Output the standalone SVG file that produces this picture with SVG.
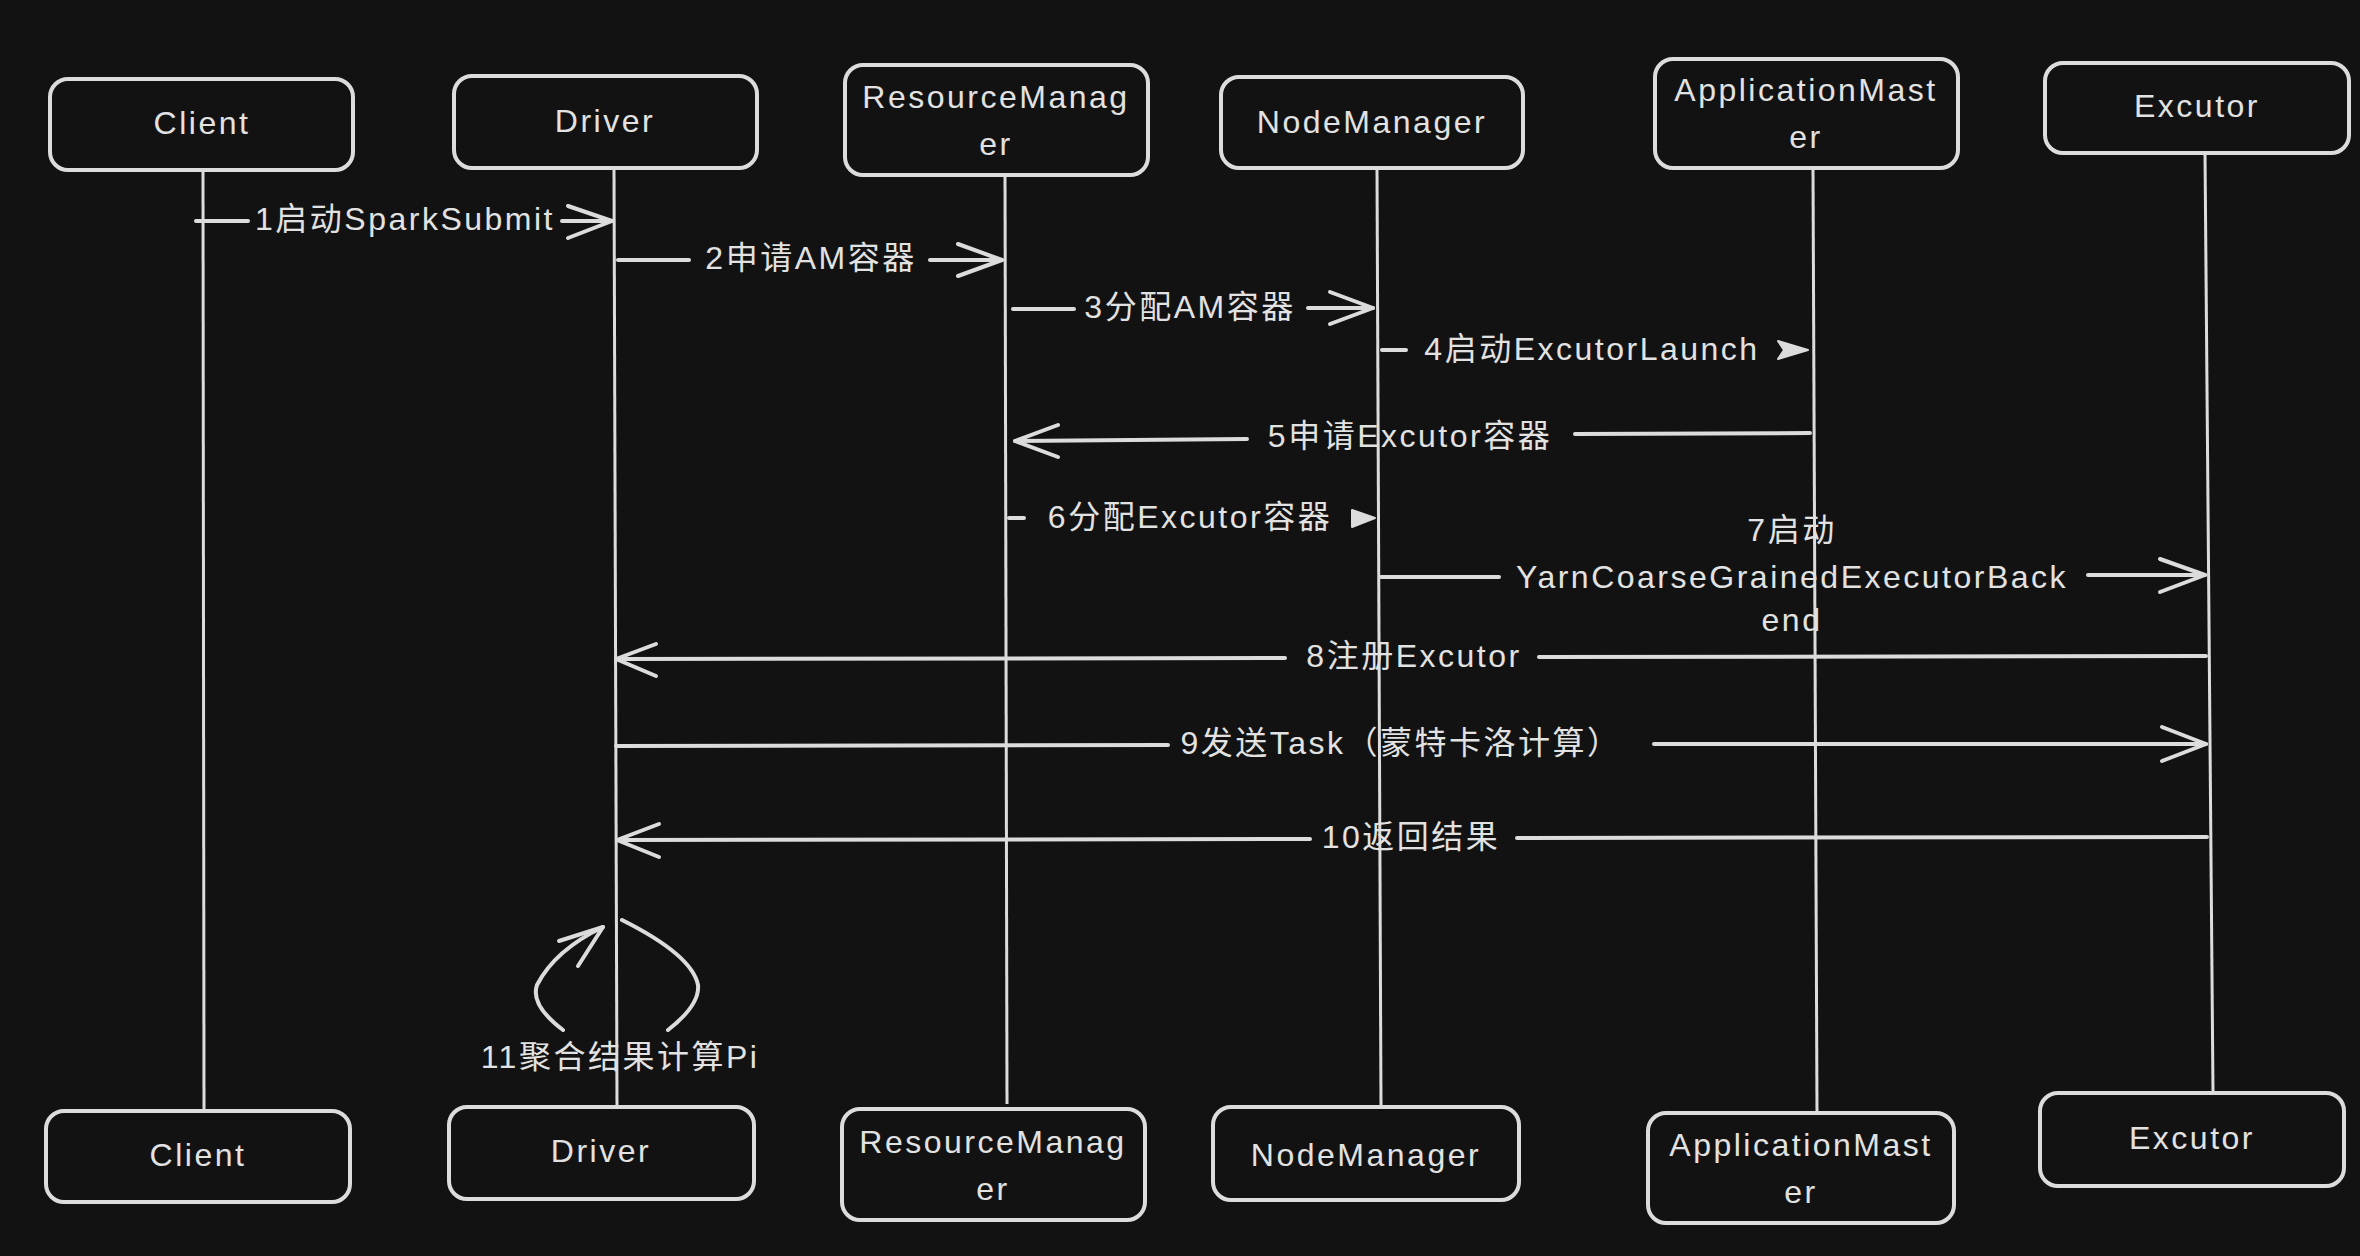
<svg xmlns="http://www.w3.org/2000/svg" width="2360" height="1256" viewBox="0 0 2360 1256">
<defs>
<style>
.bg{fill:#121212}
.box{fill:#121212;stroke:#dcdcdc;stroke-width:4}
.life{stroke:#dcdcdc;stroke-width:3;fill:none}
.msg{stroke:#dcdcdc;stroke-width:4;fill:none;stroke-linecap:round}
.head{stroke:#dcdcdc;stroke-width:4;fill:none;stroke-linecap:round;stroke-linejoin:round}
.tri{fill:#dcdcdc;stroke:#dcdcdc;stroke-width:2;stroke-linejoin:round}
text{font-family:"Liberation Sans","Noto Sans CJK SC",sans-serif;font-size:32px;fill:#e2e2e2;letter-spacing:2.5px;text-anchor:middle;dominant-baseline:central}
</style>
</defs>
<rect class="bg" x="0" y="0" width="2360" height="1256"/>

<g id="lifelines">
<line class="life" x1="203" y1="170" x2="204" y2="1111"/>
<line class="life" x1="614" y1="168" x2="617" y2="1107"/>
<line class="life" x1="1005" y1="175" x2="1007" y2="1104"/>
<line class="life" x1="1377" y1="168" x2="1381" y2="1107"/>
<line class="life" x1="1813" y1="168" x2="1817" y2="1113"/>
<line class="life" x1="2205" y1="153" x2="2213" y2="1093"/>
</g>

<g id="connectors">
<!-- 1 -->
<line class="msg" x1="196" y1="221" x2="248" y2="221"/>
<line class="msg" x1="562" y1="221" x2="612" y2="221"/>
<path class="head" d="M568,206 L612,221 L568,238"/>
<text x="405" y="219">1启动SparkSubmit</text>
<!-- 2 -->
<line class="msg" x1="618" y1="260" x2="689" y2="260"/>
<line class="msg" x1="930" y1="260" x2="1002" y2="260"/>
<path class="head" d="M958,244 L1002,260 L958,276"/>
<text x="811" y="258">2申请AM容器</text>
<!-- 3 -->
<line class="msg" x1="1013" y1="309" x2="1074" y2="309"/>
<line class="msg" x1="1308" y1="308" x2="1373" y2="308"/>
<path class="head" d="M1330,292 L1373,308 L1330,324"/>
<text x="1190" y="307">3分配AM容器</text>
<!-- 4 -->
<line class="msg" x1="1382" y1="350" x2="1406" y2="350"/>
<path class="tri" d="M1778,341 L1808,350 L1778,359 L1784,350 Z"/>
<text x="1592" y="349">4启动ExcutorLaunch</text>
<!-- 5 -->
<line class="msg" x1="1810" y1="433" x2="1575" y2="434"/>
<line class="msg" x1="1247" y1="439" x2="1015" y2="441"/>
<path class="head" d="M1058,425 L1015,441 L1058,457"/>
<text x="1410" y="436">5申请Excutor容器</text>
<!-- 6 -->
<line class="msg" x1="1009" y1="518" x2="1024" y2="518"/>
<path class="tri" d="M1352,510 L1375,518 L1352,527 Z"/>
<text x="1190" y="517">6分配Excutor容器</text>
<!-- 7 -->
<line class="msg" x1="1381" y1="577" x2="1499" y2="577"/>
<line class="msg" x1="2088" y1="575" x2="2205" y2="575"/>
<path class="head" d="M2160,559 L2205,575 L2160,592"/>
<text x="1792" y="530">7启动</text>
<text x="1792" y="577">YarnCoarseGrainedExecutorBack</text>
<text x="1792" y="620">end</text>
<!-- 8 -->
<line class="msg" x1="2206" y1="656" x2="1539" y2="657"/>
<line class="msg" x1="1285" y1="658" x2="616" y2="659"/>
<path class="head" d="M656,644 L616,659 L656,676"/>
<text x="1414" y="656">8注册Excutor</text>
<!-- 9 -->
<line class="msg" x1="616" y1="746" x2="1168" y2="745"/>
<line class="msg" x1="1654" y1="744" x2="2206" y2="744"/>
<path class="head" d="M2162,727 L2206,744 L2162,761"/>
<text x="1401" y="743">9发送Task（蒙特卡洛计算）</text>
<!-- 10 -->
<line class="msg" x1="2207" y1="837" x2="1517" y2="838"/>
<line class="msg" x1="1310" y1="839" x2="617" y2="840"/>
<path class="head" d="M659,824 L617,840 L659,857"/>
<text x="1411" y="837">10返回结果</text>
<!-- 11 self loop -->
<path class="msg" d="M622,920 Q692,955 698,985 Q700,1005 668,1030"/>
<path class="msg" d="M563,1030 Q530,1005 537,985 Q555,950 603,927"/>
<path class="head" d="M559,941 L603,927 L578,966"/>
<text x="620" y="1057">11聚合结果计算Pi</text>
</g>

<g id="node-client-top">
<rect class="box" x="50" y="79" width="303" height="91" rx="18"/>
<text x="202" y="123">Client</text>
</g>
<g id="node-driver-top">
<rect class="box" x="454" y="76" width="303" height="92" rx="18"/>
<text x="605" y="121">Driver</text>
</g>
<g id="node-rm-top">
<rect class="box" x="845" y="65" width="303" height="110" rx="18"/>
<text x="996" y="97">ResourceManag</text>
<text x="996" y="144">er</text>
</g>
<g id="node-nm-top">
<rect class="box" x="1221" y="77" width="302" height="91" rx="18"/>
<text x="1372" y="122">NodeManager</text>
</g>
<g id="node-am-top">
<rect class="box" x="1655" y="59" width="303" height="109" rx="18"/>
<text x="1806" y="90">ApplicationMast</text>
<text x="1806" y="137">er</text>
</g>
<g id="node-exc-top">
<rect class="box" x="2045" y="63" width="304" height="90" rx="18"/>
<text x="2197" y="106">Excutor</text>
</g>

<g id="node-client-bottom">
<rect class="box" x="46" y="1111" width="304" height="91" rx="18"/>
<text x="198" y="1155">Client</text>
</g>
<g id="node-driver-bottom">
<rect class="box" x="449" y="1107" width="305" height="92" rx="18"/>
<text x="601" y="1151">Driver</text>
</g>
<g id="node-rm-bottom">
<rect class="box" x="842" y="1109" width="303" height="111" rx="18"/>
<text x="993" y="1142">ResourceManag</text>
<text x="993" y="1189">er</text>
</g>
<g id="node-nm-bottom">
<rect class="box" x="1213" y="1107" width="306" height="93" rx="18"/>
<text x="1366" y="1155">NodeManager</text>
</g>
<g id="node-am-bottom">
<rect class="box" x="1648" y="1113" width="306" height="110" rx="18"/>
<text x="1801" y="1145">ApplicationMast</text>
<text x="1801" y="1192">er</text>
</g>
<g id="node-exc-bottom">
<rect class="box" x="2040" y="1093" width="304" height="93" rx="18"/>
<text x="2192" y="1138">Excutor</text>
</g>
</svg>
